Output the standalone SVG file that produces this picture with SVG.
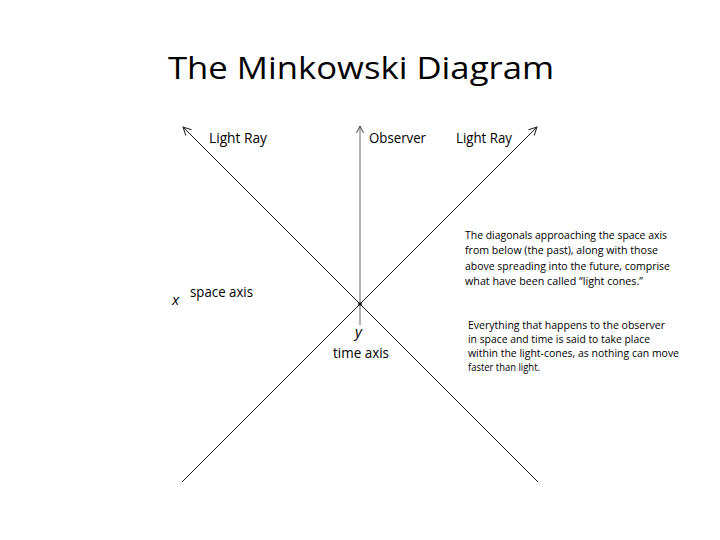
<svg xmlns="http://www.w3.org/2000/svg" width="720" height="540" viewBox="0 0 720 540">
  <style>
    text { font-family: "Open Sans", "Liberation Sans", sans-serif; fill: #000; }
    .title { font-size: 31px; }
    .lbl { font-size: 14.5px; }
    .it { font-size: 15px; font-style: italic; }
    .para { font-size: 11.5px; }
    .ln { stroke: #222; stroke-width: 1; fill: none; }
    .obs { stroke: #666; stroke-width: 1; fill: none; }
  </style>
  <defs>
    <marker id="arr" markerUnits="userSpaceOnUse" markerWidth="12" markerHeight="12" refX="9" refY="5" orient="auto">
      <path d="M1,1 L9,5 L1,9" fill="none" stroke="#222" stroke-width="1"/>
    </marker>
    <marker id="arrg" markerUnits="userSpaceOnUse" markerWidth="12" markerHeight="12" refX="9" refY="5" orient="auto">
      <path d="M2,1.5 L9,5 L2,8.5" fill="none" stroke="#444" stroke-width="1"/>
    </marker>
  </defs>
  <rect width="720" height="540" fill="#fff"/>

  <g id="title">
    <text class="title" x="168" y="79" textLength="386" lengthAdjust="spacingAndGlyphs">The Minkowski Diagram</text>
  </g>

  <g id="connectors">
    <line class="ln" x1="538" y1="482" x2="183" y2="127" marker-end="url(#arr)"/>
    <line class="ln" x1="182" y1="482" x2="537" y2="127" marker-end="url(#arr)"/>
    <line class="obs" x1="360" y1="325" x2="360" y2="126" marker-end="url(#arrg)"/>
    <circle cx="360" cy="304" r="1.8" fill="#111"/>
  </g>

  <g id="light-ray-left">
    <text class="lbl" x="209" y="143" textLength="58" lengthAdjust="spacingAndGlyphs">Light Ray</text>
  </g>
  <g id="observer">
    <text class="lbl" x="369" y="143" textLength="57" lengthAdjust="spacingAndGlyphs">Observer</text>
  </g>
  <g id="light-ray-right">
    <text class="lbl" x="456" y="143" textLength="56" lengthAdjust="spacingAndGlyphs">Light Ray</text>
  </g>

  <g id="space-axis">
    <text class="it" x="172" y="305">x</text>
    <text class="lbl" x="190" y="297" textLength="63" lengthAdjust="spacingAndGlyphs">space axis</text>
  </g>
  <g id="time-axis">
    <text class="it" x="355" y="337">y</text>
    <text class="lbl" x="333" y="358" textLength="56" lengthAdjust="spacingAndGlyphs">time axis</text>
  </g>

  <g id="note-light-cones">
    <text class="para" x="465" y="239" textLength="202" lengthAdjust="spacingAndGlyphs">The diagonals approaching the space axis</text>
    <text class="para" x="465" y="254" textLength="193" lengthAdjust="spacingAndGlyphs">from below (the past), along with those</text>
    <text class="para" x="465" y="270" textLength="205" lengthAdjust="spacingAndGlyphs">above spreading into the future, comprise</text>
    <text class="para" x="465" y="285" textLength="178" lengthAdjust="spacingAndGlyphs">what have been called “light cones.”</text>
  </g>

  <g id="note-observer">
    <text class="para" x="468" y="329" textLength="197" lengthAdjust="spacingAndGlyphs">Everything that happens to the observer</text>
    <text class="para" x="468" y="343" textLength="182" lengthAdjust="spacingAndGlyphs">in space and time is said to take place</text>
    <text class="para" x="468" y="357" textLength="211" lengthAdjust="spacingAndGlyphs">within the light-cones, as nothing can move</text>
    <text class="para" x="468" y="371" textLength="72" lengthAdjust="spacingAndGlyphs">faster than light.</text>
  </g>
</svg>
